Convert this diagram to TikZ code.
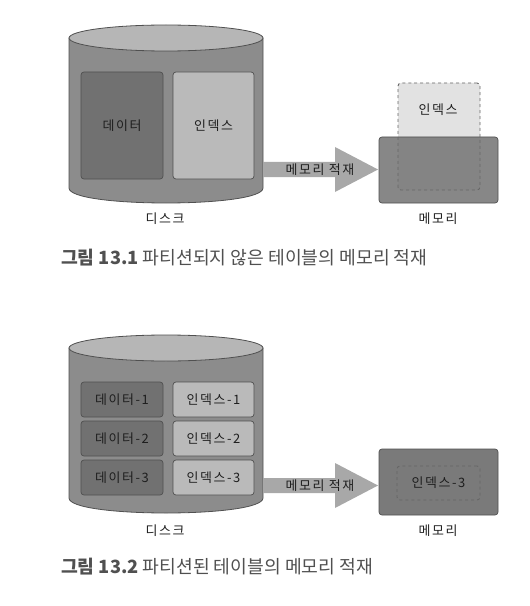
\documentclass[tikz,border=0pt]{standalone}
\usepackage{fontspec}
\setmainfont{Noto Sans CJK KR}
\newfontfamily\lblfont{Noto Sans CJK KR}[LetterSpace=12]
\usetikzlibrary{positioning}
\definecolor{diskbody}{HTML}{8C8C8C}
\definecolor{disktop}{HTML}{B6B6B6}
\definecolor{diskline}{HTML}{505050}
\definecolor{datagray}{HTML}{717171}
\definecolor{idxgray}{HTML}{BABABA}
\definecolor{memgray}{HTML}{7A7A7A}
\definecolor{partgray}{HTML}{E2E2E2}
\definecolor{dashgray}{HTML}{666666}
\definecolor{arrowgray}{HTML}{A8A8A8}
\definecolor{capgray}{HTML}{505050}
\definecolor{txtgray}{HTML}{1E1E1E}

\begin{document}
\begin{tikzpicture}[x=1bp, y=-1bp, font=\lblfont\fontsize{13}{15}\selectfont, text=txtgray,
    box/.style = {draw=diskline, rounded corners=3bp, line width=0.7bp, inner sep=0pt},
    datab/.style = {box, fill=datagray, minimum width=82bp},
    idxb/.style = {box, fill=idxgray, minimum width=81bp},
    memb/.style = {box, fill=memgray, minimum width=119bp, minimum height=66bp},
    part/.style = {draw=dashgray, dashed, rounded corners=3bp, line width=0.9bp, inner sep=0pt},
    cyl/.style = {fill=diskbody, draw=diskline, line width=0.8bp},
    load/.style = {fill=arrowgray},
    figcap/.style = {anchor=west, inner sep=0pt, font=\rmfamily\fontsize{18.3}{21}\selectfont, text=capgray}]
    \useasboundingbox (0,0) rectangle (530,606);

    % figure 13.1
    \path[cyl] (69,38) -- (69,188) .. controls (69,208) and (263,208) .. (263,188) -- (263,38) -- cycle;
    \path[cyl, fill=disktop] (166,38) ellipse [x radius=97, y radius=13];
    \node[datab, minimum height=107bp] (data) at (122,125.5) {데이터};
    \node[idxb, minimum height=107bp] (index) at (213.5,125.5) {인덱스};
    \fill[partgray, rounded corners=3bp] (398,83) rectangle (480,190);
    \node[memb, fill opacity=0.9] (mem) at (438.5,170) {};
    \node[part, minimum width=82bp, minimum height=107bp] (part) at (439,136.5) {};
    \node (partlabel) at (438,110) {인덱스};
    \fill[load] (263,162) -- (335,162) -- (335,147) -- (378,169.5) -- (335,192) -- (335,177) -- (263,177) -- cycle;
    \node (loadlabel) at (320,169.5) {메모리 적재};
    \node (disk) at (165,219) {디스크};
    \node (memlabel) at (438,219) {메모리};
    \node[figcap] (cap1) at (61,258) {\textbf{그림 13.1} 파티션되지 않은 테이블의 메모리 적재};

    % figure 13.2
    \path[cyl] (69,348) -- (69,498) .. controls (69,518) and (263,518) .. (263,498) -- (263,348) -- cycle;
    \path[cyl, fill=disktop] (166,348) ellipse [x radius=97, y radius=13];
    \foreach \i/\y in {1/399.5, 2/438.5, 3/477.5} {
        \node[datab, minimum height=35bp] (data\i) at (122,\y) {데이터-\i};
        \node[idxb, minimum height=35bp] (index\i) at (213.5,\y) {인덱스-\i};
    }
    \node[memb] (mem2) at (438.5,482) {};
    \node[part, minimum width=83bp, minimum height=34bp] (part3) at (438.5,483) {인덱스-3};
    \fill[load] (263,478) -- (335,478) -- (335,463) -- (378,485.5) -- (335,508) -- (335,493) -- (263,493) -- cycle;
    \node (loadlabel2) at (320,485.5) {메모리 적재};
    \node (disk2) at (165,531) {디스크};
    \node (memlabel2) at (438,531) {메모리};
    \node[figcap] (cap2) at (61,567) {\textbf{그림 13.2} 파티션된 테이블의 메모리 적재};
\end{tikzpicture}
\end{document}
